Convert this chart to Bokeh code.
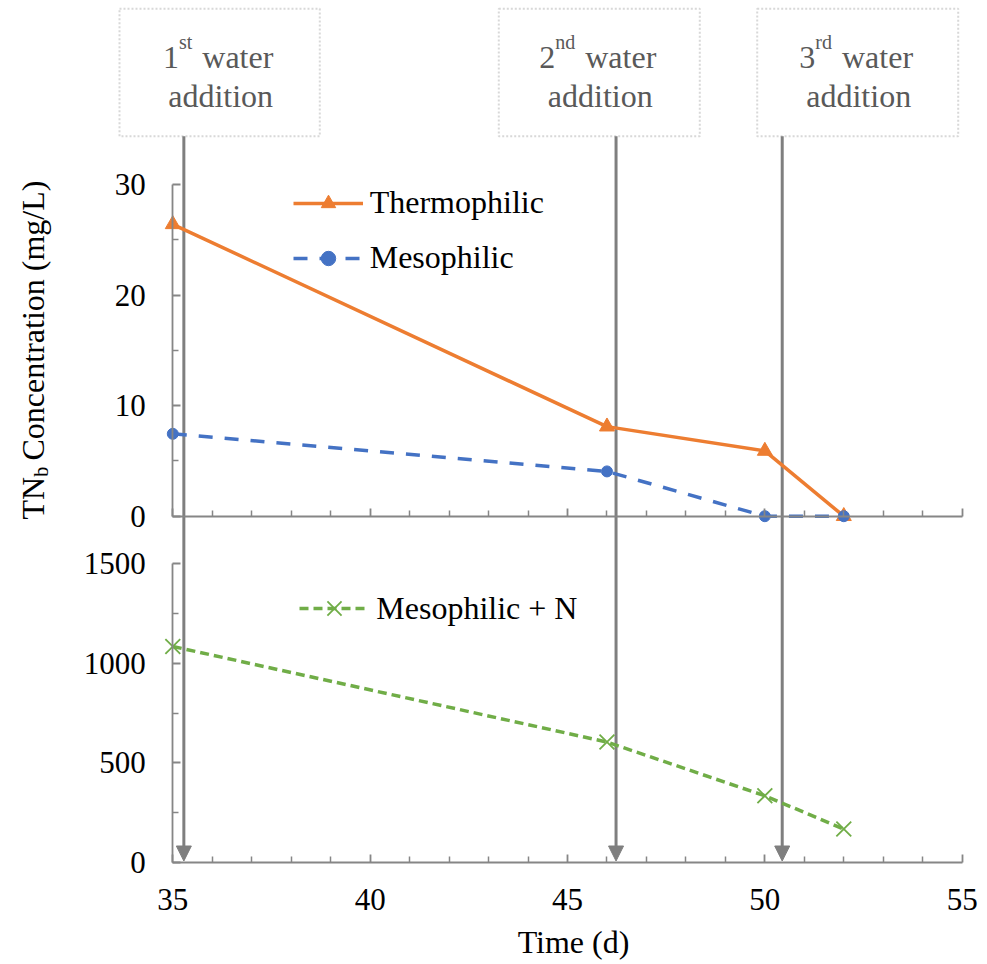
import math
from bokeh.plotting import figure
from bokeh.models import (Range1d, LinearAxis, FixedTicker, Arrow, NormalHead,
                          BoxAnnotation, Label, Legend, LegendItem)
from bokeh.embed import file_html
from bokeh.resources import INLINE

# ---------------- data ----------------
days = [35, 46, 50, 52]
thermophilic = [26.4, 8.1, 5.9, 0.0]
mesophilic = [7.45, 4.05, 0.0, 0.0]
mesophilic_n = [1085, 605, 335, 168]
water_addition_days = [35.28, 46.23, 50.44]
water_addition_nums = ["1", "2", "3"]
water_addition_sups = ["st", "nd", "rd"]

x_ticks = [35, 40, 45, 50, 55]
x_minor = [d for d in range(35, 56) if d not in x_ticks]
top_ticks = [0, 10, 20, 30]
top_minor = [5, 15, 25]
bottom_ticks = [0, 500, 1000, 1500]
bottom_minor = [250, 750, 1250]

# ---------------- layout (pixels) ----------------
W, H = 987, 964
X35_PX, PX_DAY = 172.3, 39.47
B0_PX = 862.0                      # y = 0 of lower panel
K_B = (B0_PX - 563.3) / 1500.0     # px per unit, lower panel
T0_PX = 515.7                      # y = 0 of upper panel
K_T = (T0_PX - 184.0) / 30.0       # px per unit, upper panel
FS = 32                            # main font size
TFS = 31                           # tick label font size
SFS = 20                           # superscript / subscript size
BL = 0.35                          # baseline correction (em)


def xd(px):
    return 35 + (px - X35_PX) / PX_DAY


def yb(py):
    return (B0_PX - py) / K_B


def yt(py):
    return (T0_PX - py) / K_T


ORANGE = "#ED7D31"
BLUE = "#4472C4"
GREEN = "#70AD47"
AX = "#868686"
ARROW = "#7F7F7F"
BOXC = "#7F7F7F"
TXT_GRAY = "#595959"
FONT = "Liberation Serif"

p = figure(width=W, height=H,
           x_range=Range1d(xd(0), xd(W)),
           y_range=Range1d(yb(H), yb(0)),
           output_backend="svg", toolbar_location=None,
           x_axis_location=None, y_axis_location=None,
           min_border_left=0, min_border_right=0,
           min_border_top=0, min_border_bottom=0)
p.extra_y_ranges = {"top": Range1d(yt(H), yt(0))}
p.xgrid.visible = False
p.ygrid.visible = False
p.outline_line_color = None
p.background_fill_color = "white"
p.border_fill_color = "white"

axis_style = dict(axis_line_color=AX, axis_line_width=1.8,
                  major_tick_line_color=AX, minor_tick_line_color=AX,
                  major_tick_line_width=1.8, minor_tick_line_width=1.5,
                  major_tick_in=8, major_tick_out=0,
                  minor_tick_in=6, minor_tick_out=0,
                  major_label_text_font=FONT,
                  major_label_text_font_size=f"{TFS}px",
                  major_label_text_color="black")

xaxis = LinearAxis(fixed_location=0,
                   ticker=FixedTicker(ticks=x_ticks, minor_ticks=x_minor),
                   bounds=(35, 55), major_label_standoff=26, **axis_style)
p.add_layout(xaxis, "below")

xaxis_top = LinearAxis(y_range_name="top", fixed_location=0,
                       ticker=FixedTicker(ticks=x_ticks, minor_ticks=x_minor),
                       bounds=(35, 55),
                       major_label_overrides={t: "" for t in x_ticks},
                       **axis_style)
xaxis_top.major_label_text_font_size = "0px"
p.add_layout(xaxis_top, "below")

yaxis_top = LinearAxis(y_range_name="top", fixed_location=35, bounds=(0, 30),
                       ticker=FixedTicker(ticks=top_ticks, minor_ticks=top_minor),
                       major_label_standoff=27, **axis_style)
p.add_layout(yaxis_top, "left")

yaxis_bot = LinearAxis(fixed_location=35, bounds=(0, 1500),
                       ticker=FixedTicker(ticks=bottom_ticks, minor_ticks=bottom_minor),
                       major_label_standoff=27, **axis_style)
p.add_layout(yaxis_bot, "left")

# ---------------- arrows & boxes ----------------
for d in water_addition_days:
    p.add_layout(Arrow(end=NormalHead(size=15, fill_color=ARROW, line_color=ARROW, line_width=1),
                       x_start=d, y_start=yb(135.7), x_end=d, y_end=yb(860.5),
                       line_color=ARROW, line_width=3, level="underlay"))


def label(px, py, text, fs, color="black", align="left", angle=0.0):
    # px / py given as the alphabetic baseline position in pixels
    if angle == 0.0:
        x, y = xd(px), yb(py - BL * fs)
    else:
        x, y = xd(px - BL * fs), yb(py)
    p.add_layout(Label(x=x, y=y, text=text, angle=angle, text_font=FONT,
                       text_font_size=f"{fs}px", text_color=color,
                       text_align=align, text_baseline="alphabetic"))


box_px = [(119.0, 319.3), (498.3, 699.3), (756.7, 957.7)]
CW = {"s": .389, "t": .278, "n": .5, "d": .5, "r": .333}
for (l, r), num, sup in zip(box_px, water_addition_nums, water_addition_sups):
    p.add_layout(BoxAnnotation(left=xd(l), right=xd(r), top=yb(8.3), bottom=yb(135.7),
                               fill_color=None, fill_alpha=0, line_color=BOXC,
                               line_width=2, line_dash="2 2"))
    cx = (l + r) / 2
    supw = sum(CW[c] for c in sup) * SFS
    digw = 0.5 * FS
    total = digw + supw + 10 + 2.221 * FS
    x0 = cx - total / 2 - 1.5
    label(x0, 68, num, FS, TXT_GRAY)
    label(x0 + digw, 48, sup, SFS, TXT_GRAY)
    label(x0 + digw + supw + 10, 68, "water", FS, TXT_GRAY)
    label(cx + 1, 107, "addition", FS, TXT_GRAY, align="center")

# ---------------- series ----------------
t_line = p.line(days, thermophilic, y_range_name="top", line_color=ORANGE, line_width=3.5)
t_pts = p.scatter(days, thermophilic, y_range_name="top", marker="triangle", size=15,
                  fill_color=ORANGE, line_color=ORANGE)
m_line = p.line(days, mesophilic, y_range_name="top", line_color=BLUE, line_width=3.5,
                line_dash="14 12")
m_pts = p.scatter(days, mesophilic, y_range_name="top", marker="circle", size=11,
                  fill_color=BLUE, line_color=BLUE)
n_line = p.line(days, mesophilic_n, line_color=GREEN, line_width=3.5, line_dash="9 5")
n_pts = p.scatter(days, mesophilic_n, marker="x", size=21, line_color=GREEN, line_width=1.8)

leg_style = dict(orientation="vertical", glyph_width=70,
                 label_standoff=7, spacing=18, padding=0, margin=0,
                 border_line_color=None, background_fill_alpha=0,
                 label_text_font=FONT, label_text_font_size=f"{FS}px",
                 label_text_color="black")
leg1 = Legend(items=[LegendItem(label="Thermophilic", renderers=[t_line, t_pts]),
                     LegendItem(label="Mesophilic", renderers=[m_line, m_pts])],
              location=(292.7, H - 276), glyph_height=36, **leg_style)
leg2 = Legend(items=[LegendItem(label="Mesophilic + N", renderers=[n_line, n_pts])],
              location=(299.3, H - 633.3), glyph_height=50, **leg_style)
p.add_layout(leg1)
p.add_layout(leg2)

# ---------------- axis titles ----------------
label(573, 953, "Time (d)", FS, align="center")
angle = math.pi / 2
label(44, 519, "TN", FS, angle=angle)
label(47, 519 - 1.333 * FS, "b", SFS, angle=angle)
label(44, 460, "Concentration (mg/L)", FS, angle=angle)

open("out.html", "w").write(file_html(p, INLINE))
